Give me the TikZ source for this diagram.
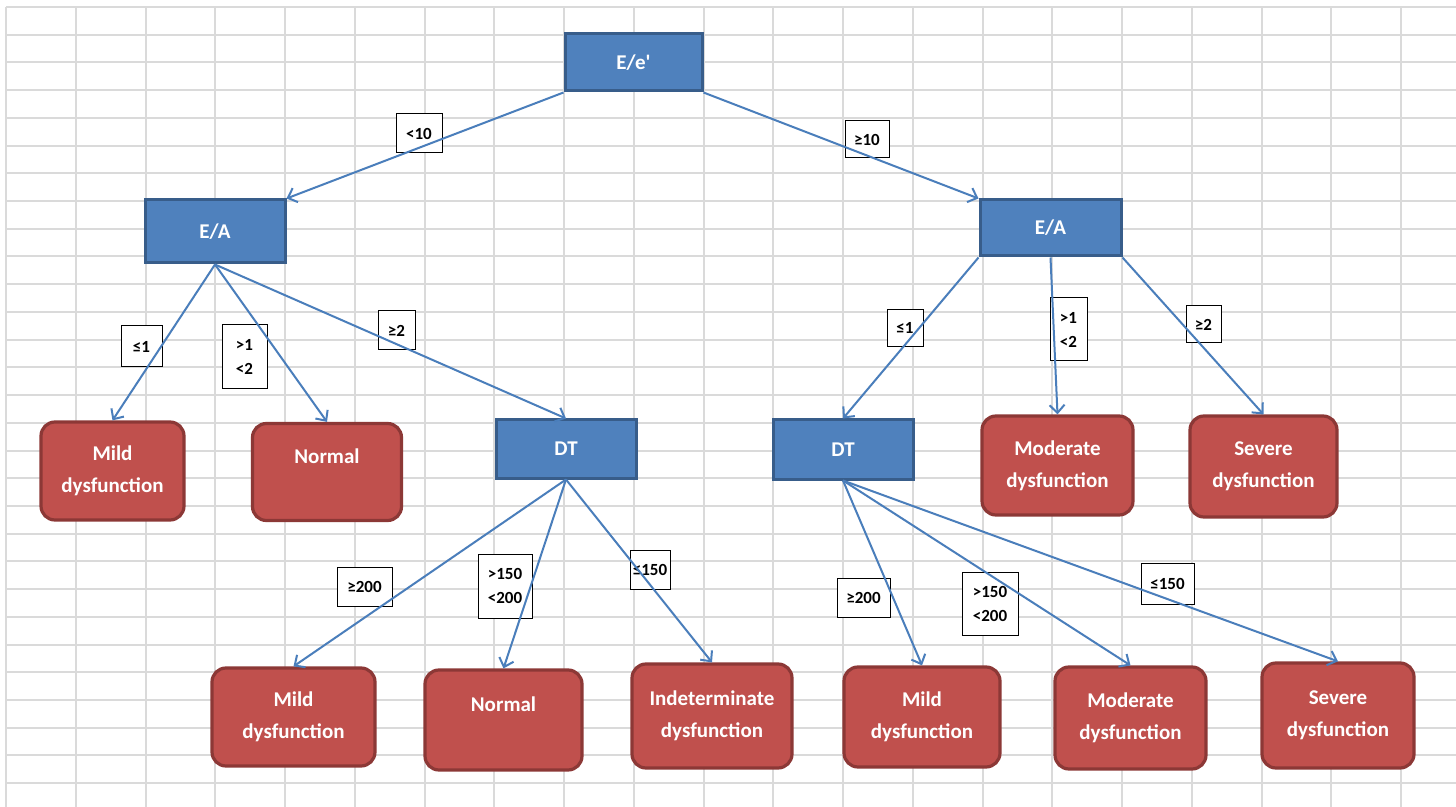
\documentclass[tikz,border=0pt]{standalone}
\usepackage{fontspec}
\setmainfont{Carlito}
\newfontfamily\carlitoplain{Carlito}
\usetikzlibrary{arrows.meta}
\definecolor{gridgray}{HTML}{DADADA}
\definecolor{bluefill}{HTML}{4F81BD}
\definecolor{blueborder}{HTML}{385D8A}
\definecolor{redfill}{HTML}{C0504D}
\definecolor{redborder}{HTML}{8C3836}
\definecolor{arrowblue}{HTML}{4A7EBB}
\tikzset{
  gridline/.style={draw=gridgray, line width=1pt},
  bluebox/.style={draw=blueborder, fill=bluefill, line width=1.5pt, text=white,
    font=\fontsize{10.5}{16}\selectfont\bfseries, inner sep=0pt, align=center},
  redbox/.style={draw=redborder, fill=redfill, line width=1.6pt, rounded corners=7pt, text=white,
    font=\fontsize{10.5}{16}\selectfont\bfseries, inner sep=0pt, align=center},
  lbl/.style={draw=black, line width=0.5pt, fill=white, text=black,
    font=\fontsize{8.5}{12}\selectfont\bfseries, inner sep=0pt, align=center},
  conn/.style={draw=arrowblue, line width=1pt, -{Straight Barb[length=4pt,width=7.5pt]}}
}
\begin{document}
\begin{tikzpicture}[x=0.5pt,y=-0.5pt]
\useasboundingbox (0,0) rectangle (1456,807);
\fill[white] (0,0) rectangle (1456,807);
% spreadsheet grid
\foreach \i in {0,...,20} \draw[gridline] ({6+69.75*\i},7) -- ({6+69.75*\i},807);
\foreach \j in {0,...,28} \draw[gridline] (6,{7+27.72*\j}) -- (1456,{7+27.72*\j});

% decision nodes
\node[bluebox, minimum width=68.5pt, minimum height=28.5pt] (ee) at (633.5,62.5) {{\carlitoplain\bfseries E/e'}};
\node[bluebox, minimum width=70pt, minimum height=31.5pt] (ea1) at (215,231.5) {E/A};
\node[bluebox, minimum width=70.5pt, minimum height=28pt] (ea2) at (1050.5,228) {E/A};
\node[bluebox, minimum width=70pt, minimum height=29pt] (dt1) at (566,449) {DT};
\node[bluebox, minimum width=70pt, minimum height=29.5pt] (dt2) at (843,449.5) {DT};

% outcome nodes
\node[redbox, minimum width=71.5pt, minimum height=49pt] (m1) at (112.5,471) {Mild\\dysfunction};
\node[redbox, minimum width=74.5pt, minimum height=48.5pt] (n1) at (327,472) {Normal\\[0pt]\mbox{}};
\node[redbox, minimum width=75.5pt, minimum height=49.5pt] (mo1) at (1057.5,465.5) {Moderate\\dysfunction};
\node[redbox, minimum width=73.5pt, minimum height=50.5pt] (s1) at (1263.5,466.5) {Severe\\dysfunction};
\node[redbox, minimum width=81.5pt, minimum height=49pt] (m2) at (293.5,717) {Mild\\dysfunction};
\node[redbox, minimum width=78.5pt, minimum height=50pt] (n2) at (503.5,720) {Normal\\[0pt]\mbox{}};
\node[redbox, minimum width=80pt, minimum height=52pt] (i2) at (712,716) {Indeterminate\\dysfunction};
\node[redbox, minimum width=78pt, minimum height=50pt] (m3) at (922,717) {Mild\\dysfunction};
\node[redbox, minimum width=75.5pt, minimum height=51pt] (mo3) at (1130.5,718) {Moderate\\dysfunction};
\node[redbox, minimum width=76pt, minimum height=52.5pt] (s3) at (1338,715.5) {Severe\\dysfunction};

% condition labels
\node[lbl, minimum width=23pt, minimum height=19.5pt] (l1) at (419,133.5) {<10};
\node[lbl, minimum width=22pt, minimum height=18.5pt] (l2) at (867,139.5) {≥10};
\node[lbl, minimum width=20.5pt, minimum height=20.5pt] (l3) at (141.5,346.5) {≤1};
\node[lbl, minimum width=22.5pt, minimum height=32pt] (l4) at (244.5,357) {>1\\<2};
\node[lbl, minimum width=18.5pt, minimum height=19.5pt] (l5) at (396.5,330.5) {≥2};
\node[lbl, minimum width=18pt, minimum height=18.5pt] (l6) at (905,328) {≤1};
\node[lbl, minimum width=18.5pt, minimum height=31.5pt] (l7) at (1068.5,329.5) {>1\\<2};
\node[lbl, minimum width=17.5pt, minimum height=18.5pt] (l8) at (1203.5,324.5) {≥2};
\node[lbl, minimum width=27.5pt, minimum height=19.5pt] (l9) at (364.5,586.5) {≥200};
\node[lbl, minimum width=27pt, minimum height=32pt] (l10) at (505,586) {>150\\<200};
\node[lbl, minimum width=20pt, minimum height=19.5pt] (l11) at (650,569.5) {≤150};
\node[lbl, minimum width=26.5pt, minimum height=19.5pt] (l12) at (863.5,597.5) {≥200};
\node[lbl, minimum width=28pt, minimum height=31.5pt] (l13) at (990,603.5) {>150\\<200};
\node[lbl, minimum width=26.5pt, minimum height=20.5pt] (l14) at (1167.5,583.5) {≤150};

% connectors
\draw[conn] (ee.south west) -- (ea1.north east);
\draw[conn] (ee.south east) -- (ea2.north west);
\draw[conn] (ea1.south) -- (m1.north);
\draw[conn] (ea1.south) -- (n1.north);
\draw[conn] (ea1.south) -- (dt1.north);
\draw[conn] (ea2.south west) -- (dt2.north);
\draw[conn] (ea2.south) -- (mo1.north);
\draw[conn] (ea2.south east) -- (s1.north);
\draw[conn] (dt1.south) -- (m2.north);
\draw[conn] (dt1.south) -- (n2.north);
\draw[conn] (dt1.south) -- (i2.north);
\draw[conn] (dt2.south) -- (m3.north);
\draw[conn] (dt2.south) -- (mo3.north);
\draw[conn] (dt2.south) -- (s3.north);
\end{tikzpicture}
\end{document}
